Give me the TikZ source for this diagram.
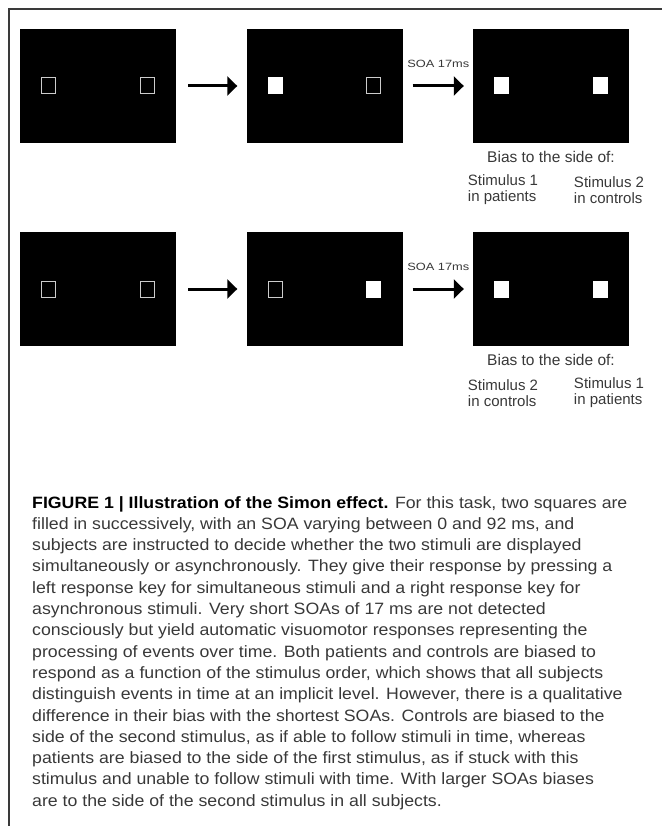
\documentclass[tikz,border=0pt]{standalone}
\usepackage{fontspec}
\setmainfont{Liberation Sans}
\usepackage{xcolor}
\usetikzlibrary{positioning, arrows.meta, calc}
\definecolor{textgray}{HTML}{383838}
\definecolor{framegray}{HTML}{3A3A3A}
\tikzstyle{screen} = [rectangle, fill=black, minimum width=156pt, minimum height=114pt, inner sep=0pt]
\tikzstyle{emptysq} = [rectangle, draw=white!80!black, line width=1pt, fill=black, minimum width=14pt, minimum height=16pt, inner sep=0pt]
\tikzstyle{fullsq} = [rectangle, fill=white, minimum width=15pt, minimum height=17pt, inner sep=0pt]
\tikzstyle{arrow} = [line width=3pt, -{Triangle[length=10pt,width=19pt]}]
\tikzstyle{soa} = [font=\fontsize{10.5}{12}\selectfont, text=textgray, inner sep=0pt, xscale=1.22]
\tikzstyle{biaslabel} = [font=\fontsize{15.5}{16}\selectfont, text=textgray, inner sep=0pt]
\tikzstyle{stimlabel} = [font=\fontsize{15}{16}\selectfont, text=textgray, inner sep=0pt, align=left]
\tikzstyle{every node}=[font=\normalsize]

\begin{document}
\begin{tikzpicture}[x=1pt, y=-1pt, node distance=226.5pt]
		\useasboundingbox (0,0) rectangle (662,826);
		\draw [framegray, line width=1.2pt] (9,826) -- (9,9) -- (662,9);
		
		%first row
		\node (p1) [screen] at (98,86) {};
		\node (p2) [screen, right of=p1] {};
		\node (p3) [screen, right of=p2] {};
		\node (p1l) [emptysq, left of=p1, node distance=49.5pt] {};
		\node (p1r) [emptysq, right of=p1, node distance=49pt] {};
		\node (p2l) [fullsq, left of=p2, node distance=49.5pt] {};
		\node (p2r) [emptysq, right of=p2, node distance=49pt] {};
		\node (p3l) [fullsq, left of=p3, node distance=49.5pt] {};
		\node (p3r) [fullsq, right of=p3, node distance=49pt] {};
		
		%second row
		\node (q1) [screen, below of=p1, node distance=203pt] {};
		\node (q2) [screen, right of=q1] {};
		\node (q3) [screen, right of=q2] {};
		\node (q1l) [emptysq, left of=q1, node distance=49.5pt] {};
		\node (q1r) [emptysq, right of=q1, node distance=49pt] {};
		\node (q2l) [emptysq, left of=q2, node distance=49.5pt] {};
		\node (q2r) [fullsq, right of=q2, node distance=49pt] {};
		\node (q3l) [fullsq, left of=q3, node distance=49.5pt] {};
		\node (q3r) [fullsq, right of=q3, node distance=49pt] {};
		
		%arrows between screens
		\draw [arrow] ([xshift=12pt]p1.east) -- ([xshift=-9pt]p2.west);
		\draw [arrow] ([xshift=10pt]p2.east) -- node[soa, above=17pt] {SOA 17ms} ([xshift=-9pt]p3.west);
		\draw [arrow] ([xshift=12pt]q1.east) -- ([xshift=-9pt]q2.west);
		\draw [arrow] ([xshift=10pt]q2.east) -- node[soa, above=17pt] {SOA 17ms} ([xshift=-9pt]q3.west);
		
		%bias labels
		\node (bias1) [biaslabel, below of=p3, node distance=71pt] {Bias to the side of:};
		\node (stim1a) [stimlabel, below of=bias1, node distance=33pt, xshift=-48pt] {Stimulus 1\\in patients};
		\node (stim1b) [stimlabel, below of=bias1, node distance=33pt, xshift=58pt] {Stimulus 2\\in controls};
		\node (bias2) [biaslabel, below of=q3, node distance=71pt] {Bias to the side of:};
		\node (stim2a) [stimlabel, below of=bias2, node distance=33pt, xshift=-48pt] {Stimulus 2\\in controls};
		\node (stim2b) [stimlabel, below of=bias2, node distance=33pt, xshift=58pt] {Stimulus 1\\in patients};
		
		%caption
		\node (caption) [anchor=north west, align=left, inner sep=0pt, text=textgray, xscale=1.08, font=\fontsize{16.4}{21.3}\selectfont] at (32,496) {\textcolor{black}{\textbf{FIGURE 1 | Illustration of the Simon effect.}} For this task, two squares are\\
		filled in successively, with an SOA varying between 0 and 92 ms, and\\
		subjects are instructed to decide whether the two stimuli are displayed\\
		simultaneously or asynchronously. They give their response by pressing a\\
		left response key for simultaneous stimuli and a right response key for\\
		asynchronous stimuli. Very short SOAs of 17 ms are not detected\\
		consciously but yield automatic visuomotor responses representing the\\
		processing of events over time. Both patients and controls are biased to\\
		respond as a function of the stimulus order, which shows that all subjects\\
		distinguish events in time at an implicit level. However, there is a qualitative\\
		difference in their bias with the shortest SOAs. Controls are biased to the\\
		side of the second stimulus, as if able to follow stimuli in time, whereas\\
		patients are biased to the side of the first stimulus, as if stuck with this\\
		stimulus and unable to follow stimuli with time. With larger SOAs biases\\
		are to the side of the second stimulus in all subjects.};
		
	\end{tikzpicture}
\end{document}
